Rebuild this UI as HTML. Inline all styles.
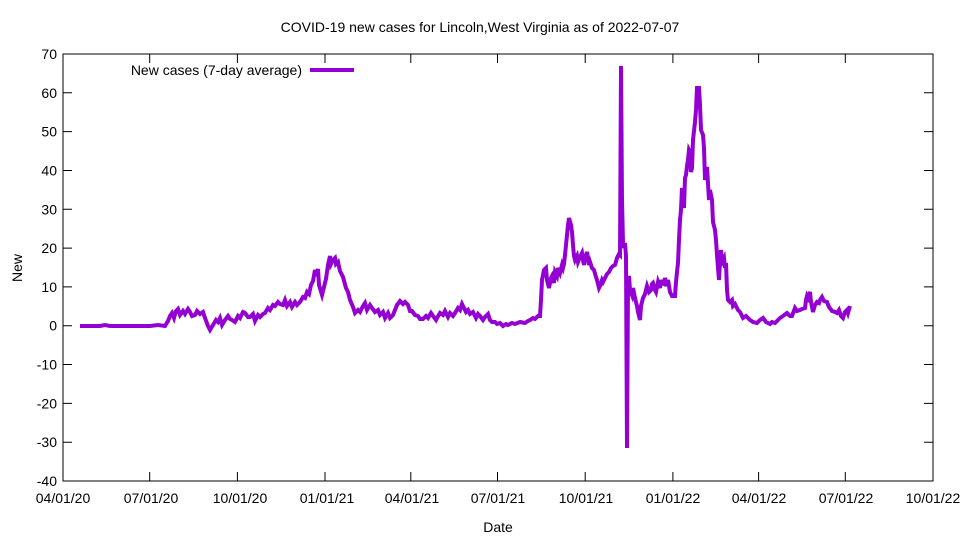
<!DOCTYPE html>
<html><head><meta charset="utf-8"><style>body{margin:0;background:#fff}svg{display:block}text{font-family:"Liberation Sans",sans-serif;font-size:14px;fill:#000}</style></head>
<body>
<svg width="960" height="540" viewBox="0 0 960 540" xmlns="http://www.w3.org/2000/svg">
<rect x="63" y="54" width="870" height="427" fill="none" stroke="#000" stroke-width="1"/>
<g stroke="#000" stroke-width="1">
<path d="M63 54h9M933 54h-9M63 92.8h9M933 92.8h-9M63 131.6h9M933 131.6h-9M63 170.5h9M933 170.5h-9M63 209.3h9M933 209.3h-9M63 248.1h9M933 248.1h-9M63 286.9h9M933 286.9h-9M63 325.7h9M933 325.7h-9M63 364.5h9M933 364.5h-9M63 403.4h9M933 403.4h-9M63 442.2h9M933 442.2h-9M63 481h9M933 481h-9"/>
<path d="M63 481v-9M63 54v9M149.7 481v-9M149.7 54v9M237.4 481v-9M237.4 54v9M325 481v-9M325 54v9M410.8 481v-9M410.8 54v9M497.5 481v-9M497.5 54v9M585.2 481v-9M585.2 54v9M672.9 481v-9M672.9 54v9M758.6 481v-9M758.6 54v9M845.3 481v-9M845.3 54v9M933 481v-9M933 54v9"/>
</g>
<g text-anchor="end">
<text x="57" y="59">70</text><text x="57" y="97.8">60</text><text x="57" y="136.6">50</text><text x="57" y="175.5">40</text><text x="57" y="214.3">30</text><text x="57" y="253.1">20</text><text x="57" y="291.9">10</text><text x="57" y="330.7">0</text><text x="57" y="369.5">-10</text><text x="57" y="408.4">-20</text><text x="57" y="447.2">-30</text><text x="57" y="486">-40</text>
</g>
<g text-anchor="middle">
<text x="63" y="503">04/01/20</text><text x="151" y="503">07/01/20</text><text x="240" y="503">10/01/20</text><text x="327" y="503">01/01/21</text><text x="412" y="503">04/01/21</text><text x="498" y="503">07/01/21</text><text x="586" y="503">10/01/21</text><text x="673" y="503">01/01/22</text><text x="759" y="503">04/01/22</text><text x="846" y="503">07/01/22</text><text x="933" y="503">10/01/22</text>
</g>
<text x="480" y="32" text-anchor="middle">COVID-19 new cases for Lincoln,West Virginia as of 2022-07-07</text>
<text x="498" y="532" text-anchor="middle">Date</text>
<text x="22" y="268" text-anchor="middle" transform="rotate(-90 22 268)">New</text>
<text x="302" y="75" text-anchor="end">New cases (7-day average)</text>
<line x1="310" y1="70" x2="354" y2="70" stroke="#9400d3" stroke-width="4"/>
<polyline fill="none" stroke="#9400d3" stroke-width="4" stroke-linejoin="miter" points="80,326 100,326 105,325 110,326 150,326 158,325 165,326 168,321 170,316 172,313 174,318 176,311 178,309 180,315 183,311 185,314 188,309 190,312 192,316 195,315 197,311 200,314 203,312 205,318 208,326 210,330 213,325 216,320 218,322 220,318 222,325 225,320 228,316 230,319 232,320 235,322 238,316 240,318 243,312 245,313 248,317 250,317 253,314 255,321 258,315 260,317 263,314 265,313 268,308 270,310 273,305 275,306 278,302 280,304 283,305 285,300 287,306 290,302 292,307 295,302 297,305 300,302 303,297 305,298 307,292 309,294 311,285 313,281 315,270 316,276 318,269 319,285 322,295 324,287 326,279 328,265 330,256 331,264 333,260 335,258 336,264 338,262 340,271 343,277 346,288 348,292 350,300 353,307 355,313 358,310 360,312 363,306 365,303 367,310 370,305 372,308 375,312 378,310 380,315 383,312 385,318 388,313 390,318 393,315 395,310 397,305 400,301 403,304 405,302 408,305 410,311 412,311 415,315 418,316 420,319 423,319 426,316 428,318 431,313 433,316 436,320 437,318 440,313 443,315 445,311 448,317 450,313 453,316 455,313 458,308 460,310 462,304 463,306 466,312 468,310 470,314 473,312 476,318 478,314 480,316 483,320 485,317 488,314 490,320 492,322 495,322 497,324 500,323 503,326 506,324 508,325 512,323 515,324 520,322 525,323 528,321 530,320 533,318 535,319 538,316 540,316 541,300 542,280 544,270 546,268 547,280 549,288 551,278 552,276 554,283 555,272 557,276 558,268 560,273 562,265 563,268 564,264 565,255 566,245 567,235 568,225 569,218 571,225 572,232 573,245 574,256 575,260 577,256 578,262 580,257 582,253 583,260 584,265 585,258 587,252 588,258 589,265 590,262 592,268 594,270 596,277 597,280 599,288 600,286 602,280 603,282 605,278 607,274 609,272 611,268 613,266 615,265 617,258 619,254 620,255 621,66 622,200 623,243 624,248 625,243 626,256 627,448 628,282 629,276 630,290 632,295 633,288 635,298 637,306 638,312 640,320 641,306 643,298 645,294 647,286 649,292 651,290 652,284 653,283 655,290 656,292 658,282 660,288 661,280 662,283 664,284 665,278 667,286 668,280 670,292 672,296 675,296 676,282 677,272 678,263 679,240 680,220 681,210 682,188 683,200 684,208 685,178 686,175 687,166 688,160 689,150 690,152 691,172 692,168 693,140 695,122 696,110 697,88 699,88 700,105 701,130 703,135 704,148 705,180 706,175 707,167 709,200 710,190 712,200 713,222 715,230 716,240 717,255 718,268 719,280 720,262 721,250 722,262 724,258 725,268 726,263 727,290 728,300 730,302 732,300 733,306 735,304 738,310 740,312 743,318 746,316 750,320 753,322 757,323 760,320 763,318 766,322 770,324 772,322 775,323 778,320 780,318 783,316 787,313 790,316 792,316 795,308 797,311 800,310 802,309 805,308 806,300 807,296 808,298 810,292 811,302 813,312 815,305 817,302 819,303 820,300 822,297 824,301 827,302 829,307 832,311 835,312 837,313 839,310 841,316 843,318 845,312 847,310 848,313 850,306"/>
</svg>
</body></html>
